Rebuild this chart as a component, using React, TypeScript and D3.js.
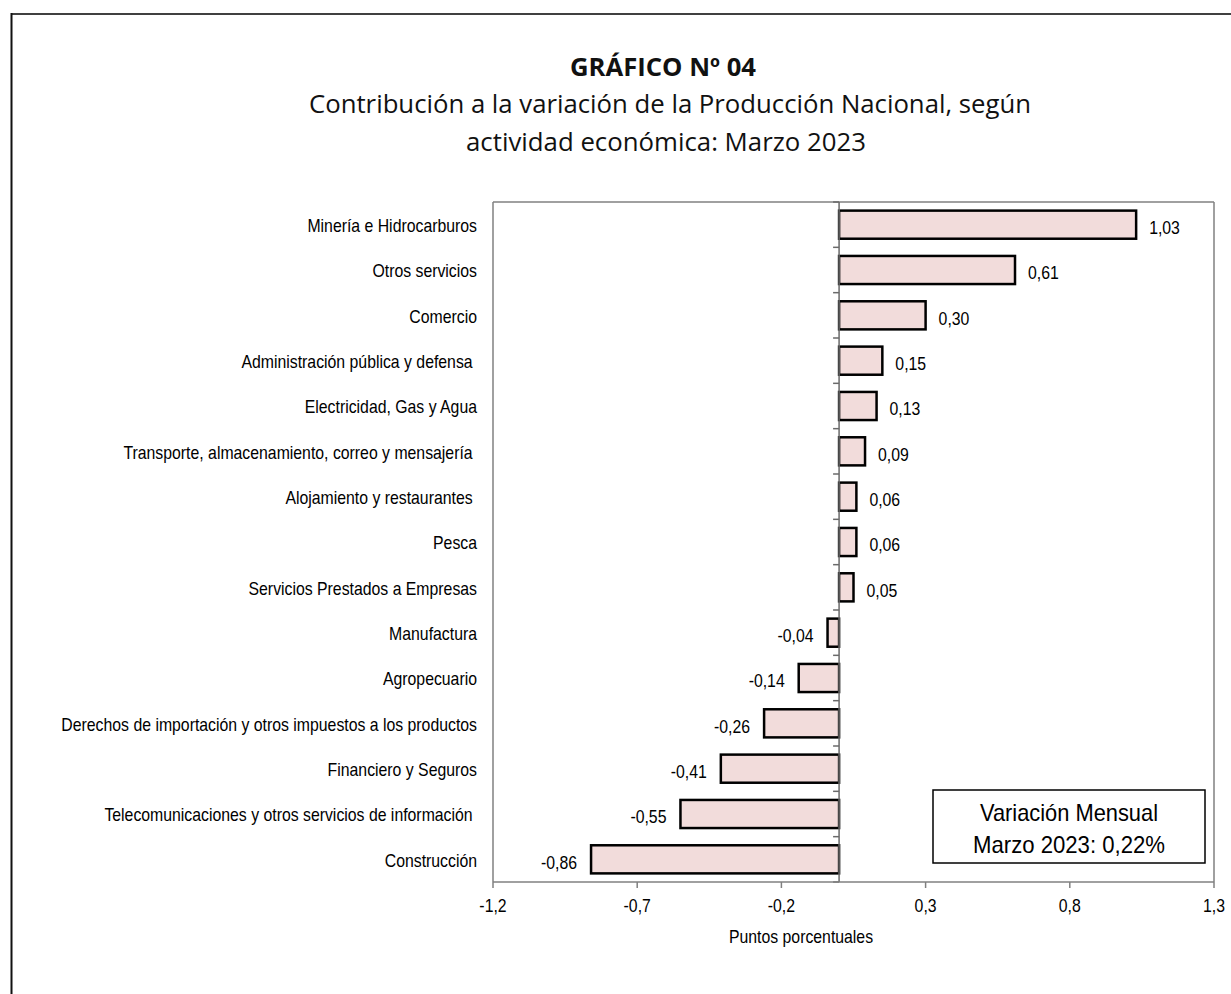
import React from "react";
import * as d3 from "d3";

const categories = [
  "Minería e Hidrocarburos",
  "Otros servicios",
  "Comercio",
  "Administración pública y defensa ",
  "Electricidad, Gas y Agua",
  "Transporte, almacenamiento, correo y mensajería ",
  "Alojamiento y restaurantes ",
  "Pesca",
  "Servicios Prestados a Empresas",
  "Manufactura",
  "Agropecuario",
  "Derechos de importación y otros impuestos a los productos",
  "Financiero y Seguros",
  "Telecomunicaciones y otros servicios de información ",
  "Construcción",
];
const values = [1.03, 0.61, 0.3, 0.15, 0.13, 0.09, 0.06, 0.06, 0.05, -0.04, -0.14, -0.26, -0.41, -0.55, -0.86];
const xTickValues = [-1.2, -0.7, -0.2, 0.3, 0.8, 1.3];
const titleLines = ["GRÁFICO Nº 04", "Contribución a la variación de la Producción Nacional, según", "actividad económica: Marzo 2023"];
const axisTitle = "Puntos porcentuales";
const noteLines = ["Variación Mensual", "Marzo 2023: 0,22%"];

const W = 1231;
const H = 994;
const plot = { left: 493, right: 1214, top: 202, bottom: 882 };
const FONT = "'Liberation Sans', Arial, sans-serif";
const NARROW = 0.855;

function NText({ x, y, anchor = "start", size = 18.5, children }: any) {
  return (
    <text
      transform={`translate(${x},${y}) scale(${NARROW},1)`}
      textAnchor={anchor}
      dominantBaseline="central"
      fontFamily={FONT}
      fontSize={size}
      fill="#000"
      style={{ whiteSpace: "pre" }}
    >
      {children}
    </text>
  );
}

const fmt2 = (v: number) => d3.format(".2f")(v).replace(".", ",").replace("−", "-");
const fmt1 = (v: number) => d3.format(".1f")(v).replace(".", ",").replace("−", "-");

export default function App() {
  const x = d3.scaleLinear().domain([-1.2, 1.3]).range([plot.left, plot.right]);
  const y = d3
    .scaleBand<string>()
    .domain(categories)
    .range([plot.top, plot.bottom])
    .paddingInner(0.38)
    .paddingOuter(0.19);
  const step = y.step();
  const x0 = x(0);
  const boundaries = d3.range(categories.length + 1).map((i) => plot.top + i * step);

  return (
    <svg
      width={W}
      height={H}
      style={{ position: "absolute", left: 0, top: 0, background: "#fff" }}
    >
      <rect x={0} y={0} width={W} height={H} fill="#fff" />
      {/* outer frame */}
      <line x1={11.5} y1={14} x2={W} y2={14} stroke="#404040" strokeWidth={2} />
      <line x1={11.5} y1={13} x2={11.5} y2={H} stroke="#111" strokeWidth={2} />

      {/* titles */}
      <text x={663} y={76} textAnchor="middle" fontFamily="'Open Sans', 'Noto Sans', sans-serif" fontWeight="bold" fontSize={25} textLength={186} lengthAdjust="spacingAndGlyphs" fill="#111">
        {titleLines[0]}
      </text>
      <text x={670} y={113} textAnchor="middle" fontFamily="'Open Sans', 'Noto Sans', sans-serif" fontSize={25} textLength={722} lengthAdjust="spacingAndGlyphs" fill="#111">
        {titleLines[1]}
      </text>
      <text x={666} y={151} textAnchor="middle" fontFamily="'Open Sans', 'Noto Sans', sans-serif" fontSize={25} textLength={400} lengthAdjust="spacingAndGlyphs" fill="#111">
        {titleLines[2]}
      </text>

      {/* plot border */}
      <line x1={plot.left} y1={plot.top} x2={plot.right} y2={plot.top} stroke="#808080" strokeWidth={1.5} />
      <line x1={plot.left} y1={plot.top} x2={plot.left} y2={plot.bottom} stroke="#808080" strokeWidth={1.5} />
      <line x1={plot.right} y1={plot.top} x2={plot.right} y2={plot.bottom} stroke="#808080" strokeWidth={1.5} />

      {/* bars */}
      {categories.map((c, i) => {
        const v = values[i];
        const y0 = y(c)!;
        const bx = Math.min(x(v), x0);
        const bw = Math.abs(x(v) - x0);
        return (
          <rect key={c} x={bx} y={y0} width={bw} height={y.bandwidth()} fill="#F2DCDB" stroke="#000" strokeWidth={2.5} />
        );
      })}

      {/* zero line and category ticks */}
      <line x1={x0} y1={plot.top} x2={x0} y2={plot.bottom} stroke="#6a6a6a" strokeWidth={1.5} />
      {boundaries.map((b, i) => (
        <line key={i} x1={x0 - 6} y1={b} x2={x0} y2={b} stroke="#6a6a6a" strokeWidth={1.5} />
      ))}

      {/* x axis */}
      <line x1={plot.left} y1={plot.bottom} x2={plot.right} y2={plot.bottom} stroke="#808080" strokeWidth={1.5} />
      {xTickValues.map((t) => (
        <g key={t}>
          <line x1={x(t)} y1={plot.bottom} x2={x(t)} y2={plot.bottom + 6} stroke="#808080" strokeWidth={1.5} />
          <NText x={x(t)} y={plot.bottom + 24} anchor="middle">
            {fmt1(t)}
          </NText>
        </g>
      ))}
      <NText x={801} y={937} anchor="middle">
        {axisTitle}
      </NText>

      {/* category labels */}
      {categories.map((c) => (
        <NText key={c} x={477} y={y(c)! + y.bandwidth() / 2 + 1} anchor="end">
          {c}
        </NText>
      ))}

      {/* value labels */}
      {categories.map((c, i) => {
        const v = values[i];
        const cy = y(c)! + y.bandwidth() / 2 + 3;
        return v >= 0 ? (
          <NText key={c} x={x(v) + 13} y={cy} anchor="start">
            {fmt2(v)}
          </NText>
        ) : (
          <NText key={c} x={x(v) - 14} y={cy} anchor="end">
            {fmt2(v)}
          </NText>
        );
      })}

      {/* note box */}
      <rect x={933} y={790} width={272} height={73} fill="#fff" stroke="#000" strokeWidth={1.5} />
      <text x={1069} y={821} textAnchor="middle" fontFamily={FONT} fontSize={24} textLength={178} lengthAdjust="spacingAndGlyphs">
        {noteLines[0]}
      </text>
      <text x={1069} y={853} textAnchor="middle" fontFamily={FONT} fontSize={24} textLength={192} lengthAdjust="spacingAndGlyphs">
        {noteLines[1]}
      </text>
    </svg>
  );
}
